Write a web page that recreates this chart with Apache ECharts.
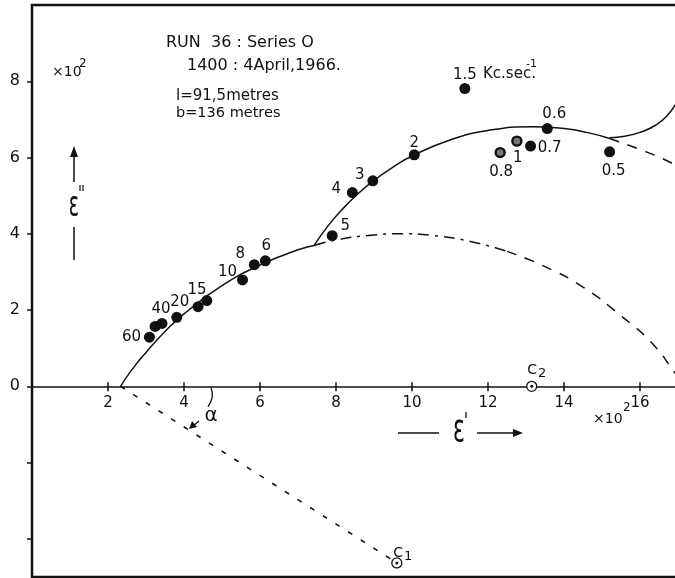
<!DOCTYPE html>
<html>
<head>
<meta charset="utf-8">
<script src="https://cdn.jsdelivr.net/npm/echarts@6/dist/echarts.min.js"></script>
<style>
  html, body { margin: 0; padding: 0; background: #ffffff; }
  #chart { width: 675px; height: 578px; }
</style>
</head>
<body>
<div id="chart"></div>
<script>
// Measured points: real part ε' and loss ε'' (both ×10²), tagged with frequency in kc/s
const freqLabels = ['60', '', '40', '20', '15', '', '10', '8', '6', '5', '4', '3', '2', '1.5', '1', '0.8', '0.7', '0.6', '0.5'];
const epsReal = [3.09, 3.24, 3.42, 3.81, 4.37, 4.60, 5.54, 5.85, 6.14, 7.90, 8.43, 8.97, 10.06, 11.39, 12.76, 12.32, 13.12, 13.56, 15.20];
const epsLoss = [1.29, 1.57, 1.65, 1.81, 2.09, 2.25, 2.79, 3.19, 3.29, 3.95, 5.08, 5.39, 6.07, 7.81, 6.43, 6.13, 6.30, 6.76, 6.15];

// Low-frequency arc (centre C1): solid part, dash-dot part, dashed part
const arc1SolidX = [2.33, 2.6, 3.0, 3.5, 4.0, 5.0, 6.0, 7.0, 7.45];
const arc1SolidY = [0.00, 0.40, 0.89, 1.44, 1.90, 2.64, 3.18, 3.58, 3.70];
const arc1DashDotX = [7.45, 8.0, 9.0, 9.7, 10.5, 11.5, 12.5];
const arc1DashDotY = [3.70, 3.84, 3.97, 4.00, 3.96, 3.81, 3.54];
const arc1DashX = [12.5, 13.5, 14.5, 15.5, 16.3, 16.9, 17.0];
const arc1DashY = [3.54, 3.14, 2.60, 1.85, 1.15, 0.38, 0.22];

// High-frequency arc (centre C2): solid and dashed continuation
const arc2SolidX = [7.42, 7.8, 8.2, 8.6, 9.0, 9.5, 10.0, 11.0, 12.0, 13.15, 14.0, 14.6, 15.2];
const arc2SolidY = [3.69, 4.22, 4.68, 5.07, 5.40, 5.75, 6.04, 6.46, 6.71, 6.81, 6.76, 6.66, 6.50];
const arc2DashX = [15.2, 16.0, 16.6, 17.0];
const arc2DashY = [6.50, 6.21, 5.97, 5.76];

// Rising branch beyond the 0.5 kc/s region
const tailX = [15.2, 15.6, 16.0, 16.4, 16.7, 17.0];
const tailY = [6.52, 6.56, 6.66, 6.84, 7.08, 7.50];

// Arc centres and radius to C1
const centreNames = ['2', '1'];
const centreX = [13.15, 9.6];
const centreY = [0.0, -4.63];
const radiusX = [2.33, 9.6];
const radiusY = [0.0, -4.63];

// Axis ranges and ticks
const xMin = 0, xMax = 17;
const yMin = -5, yMax = 10;
const xTickValues = [2, 4, 6, 8, 10, 12, 14, 16];
const yTickValues = [-4, -2, 0, 2, 4, 6, 8];
const yLabelValues = [0, 2, 4, 6, 8];

// ---- presentation ----
const INK = '#111111';
const FONT = '"DejaVu Sans", "Noto Sans", sans-serif';
const GRID = { left: 32, top: 5, right: -3, bottom: 1 };
const plotHeight = 578 - GRID.top - GRID.bottom;
// shift the ε' axis from the frame edges onto the ε'' = 0 line
const belowZero = plotHeight * (0 - yMin) / (yMax - yMin);
const aboveZero = plotHeight * (yMax - 0) / (yMax - yMin);

// Label placement around each measured point (pixel offset from point centre)
const labelOffsets = {
  '60': [-18, 0], '40': [-1, -14], '20': [3, -15], '15': [-1, -17],
  '10': [-15, -8], '8': [-14, -11], '6': [1, -15], '5': [13, -10],
  '4': [-16, -4], '3': [-13, -6], '2': [0, -12], '1.5': [0, -13],
  '1': [1, 17], '0.8': [1, 20], '0.7': [19, 2], '0.6': [7, -14], '0.5': [4, 19]
};
const ringedMarks = ['1', '0.8'];

const pairs = (xs, ys) => xs.map((x, i) => [x, ys[i]]);

const pointData = epsReal.map((x, i) => {
  const lab = freqLabels[i];
  const item = { value: [x, epsLoss[i]] };
  if (lab) {
    item.label = { show: true, formatter: lab, position: 'inside', offset: labelOffsets[lab] };
  }
  if (ringedMarks.includes(lab)) {
    item.symbolSize = 9;
    item.itemStyle = { color: '#777777', borderColor: INK, borderWidth: 2.4, opacity: 1 };
  }
  return item;
});

function curve(xs, ys, type, width) {
  return {
    type: 'line', data: pairs(xs, ys), smooth: true, symbol: 'none', silent: true,
    lineStyle: { color: INK, width: width || 1.5, type: type || 'solid' }, z: 3
  };
}

function txt(x, y, text, size, extra) {
  return Object.assign({
    type: 'text', x: x, y: y,
    style: Object.assign({ text: text, font: size + 'px ' + FONT, fill: INK, textVerticalAlign: 'middle' }, (extra && extra.style) || {})
  }, (extra && extra.el) || {});
}

const chart = echarts.init(document.getElementById('chart'), null, { renderer: 'canvas' });

const option = {
  backgroundColor: '#ffffff',
  animation: false,
  grid: Object.assign({
    outerBoundsMode: 'none', containLabel: false,
    show: true, borderColor: INK, borderWidth: 2.5, backgroundColor: 'transparent'
  }, GRID),
  xAxis: [
    {
      type: 'value', min: xMin, max: xMax, position: 'bottom', offset: -belowZero,
      axisLine: { onZero: false, lineStyle: { color: INK, width: 1.5 } },
      axisTick: { show: true, length: 5, customValues: xTickValues, lineStyle: { color: INK, width: 1.5 } },
      axisLabel: { customValues: xTickValues, color: INK, fontSize: 15, fontFamily: FONT, margin: 9 },
      splitLine: { show: false }
    },
    {
      type: 'value', min: xMin, max: xMax, position: 'top', offset: -aboveZero,
      axisLine: { show: false, onZero: false },
      axisTick: { show: true, length: 4, customValues: xTickValues, lineStyle: { color: INK, width: 1.5 } },
      axisLabel: { show: false },
      splitLine: { show: false }
    }
  ],
  yAxis: {
    type: 'value', min: yMin, max: yMax,
    axisLine: { show: false },
    axisTick: { show: true, length: 5, customValues: yTickValues, lineStyle: { color: INK, width: 1.5 } },
    axisLabel: { customValues: yLabelValues, color: INK, fontSize: 16, fontFamily: FONT, margin: 12 },
    splitLine: { show: false }
  },
  series: [
    curve(arc1SolidX, arc1SolidY),
    curve(arc1DashDotX, arc1DashDotY, [11, 6, 3, 6]),
    curve(arc1DashX, arc1DashY, [10, 9]),
    curve(arc2SolidX, arc2SolidY),
    curve(arc2DashX, arc2DashY, [10, 9]),
    curve(tailX, tailY),
    {
      type: 'line', data: pairs(radiusX, radiusY), symbol: 'none', silent: true,
      lineStyle: { color: INK, width: 1.6, type: [5, 10] }, z: 3
    },
    {
      type: 'scatter', data: pointData, symbol: 'circle', symbolSize: 11,
      itemStyle: { color: INK, opacity: 1 }, z: 5,
      label: { color: INK, fontSize: 15, fontFamily: FONT }
    },
    {
      type: 'scatter', symbol: 'circle', symbolSize: 10, z: 5,
      data: centreX.map((x, i) => ({
        value: [x, centreY[i]],
        label: {
          show: true, position: 'inside', formatter: 'C{s|' + centreNames[i] + '}',
          offset: i === 0 ? [5, -16] : [6, -10]
        }
      })),
      itemStyle: { color: '#ffffff', borderColor: INK, borderWidth: 1.3, opacity: 1 },
      label: { color: INK, fontSize: 14, fontFamily: FONT, rich: { s: { fontSize: 13, fontFamily: FONT, color: INK, padding: [7, 0, 0, 1] } } }
    },
    {
      type: 'scatter', symbol: 'circle', symbolSize: 3, z: 6, silent: true,
      data: pairs(centreX, centreY), itemStyle: { color: INK, opacity: 1 }
    }
  ],
  graphic: [
    // heading block
    txt(166, 43, 'RUN  36 : Series O', 16),
    txt(187, 66, '1400 : 4April,1966.', 16),
    txt(176, 96, 'l=91,5metres', 15),
    txt(176, 113, 'b=136 metres', 14.5),
    // y scale factor
    txt(52, 72, '×10', 14),
    txt(79, 64, '2', 12),
    // frequency unit
    txt(483, 74, 'Kc.sec.', 15),
    txt(526, 64, '-1', 11),
    // x scale factor
    txt(593, 419, '×10', 14),
    txt(623, 408, '2', 12),
    // ε' axis title with arrow
    { type: 'line', shape: { x1: 398, y1: 433, x2: 439, y2: 433 }, style: { stroke: INK, lineWidth: 1.5 } },
    txt(459, 431, 'ε', 22, { style: { textAlign: 'center' }, el: { scaleY: 1.7 } }),
    { type: 'line', shape: { x1: 466, y1: 412, x2: 466, y2: 418 }, style: { stroke: INK, lineWidth: 1.3 } },
    { type: 'line', shape: { x1: 477, y1: 433, x2: 516, y2: 433 }, style: { stroke: INK, lineWidth: 1.5 } },
    { type: 'polygon', shape: { points: [[523, 433], [513, 429], [513, 437]] }, style: { fill: INK } },
    // ε'' axis title with arrow
    { type: 'line', shape: { x1: 74, y1: 182, x2: 74, y2: 152 }, style: { stroke: INK, lineWidth: 1.5 } },
    { type: 'polygon', shape: { points: [[74, 146], [70, 157], [78, 157]] }, style: { fill: INK } },
    txt(74, 207, 'ε', 19, { style: { textAlign: 'center' }, el: { scaleY: 1.9 } }),
    { type: 'line', shape: { x1: 80, y1: 185, x2: 80, y2: 191 }, style: { stroke: INK, lineWidth: 1.2 } },
    { type: 'line', shape: { x1: 83, y1: 185, x2: 83, y2: 191 }, style: { stroke: INK, lineWidth: 1.2 } },
    { type: 'line', shape: { x1: 74, y1: 227, x2: 74, y2: 260 }, style: { stroke: INK, lineWidth: 1.5 } },
    // angle α between the axis and the radius to C1
    { type: 'bezierCurve', shape: { x1: 211, y1: 388, cpx1: 215, cpy1: 396, x2: 208, y2: 407 }, style: { stroke: INK, lineWidth: 1.3, fill: null } },
    txt(211, 416, 'α', 20, { style: { textAlign: 'center' } }),
    { type: 'line', shape: { x1: 199, y1: 421, x2: 193, y2: 426 }, style: { stroke: INK, lineWidth: 1.3 } },
    { type: 'polygon', shape: { points: [[189, 429], [192, 421], [197, 427]] }, style: { fill: INK } }
  ]
};

chart.setOption(option);
</script>
</body>
</html>
